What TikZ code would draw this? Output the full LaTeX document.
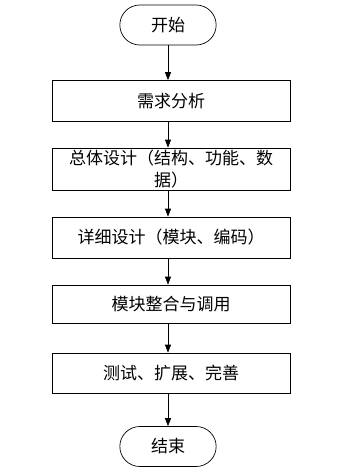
\documentclass[tikz,border=0pt]{standalone}
\usepackage{fontspec}
\newfontfamily\cjkfont{Noto Sans CJK SC}
\usetikzlibrary{arrows.meta, positioning, shapes.misc}

\begin{document}
\begin{tikzpicture}[
    x=1pt, y=1pt,
    box/.style={rectangle, draw, minimum width=238pt, minimum height=41pt,
                align=center, inner xsep=13pt, inner ysep=0pt},
    term/.style={rounded rectangle, draw, minimum width=103pt, minimum height=40pt},
    arrow/.style={-{Triangle[length=8pt, width=6pt]}, line width=0.7pt},
    every node/.style={font=\cjkfont\fontsize{17}{22}\selectfont, line width=0.7pt}
]
\useasboundingbox (0,0) rectangle (339,-476);

% Terminals
\node[term] (start) at (168,-25) {开始};
\node[term] (stop) at (168,-446.5) {结束};

% Main vertical flow
\node[box] (req) at (171,-101) {需求分析};
\node[box, minimum height=42pt] (overall) at (171,-169) {总体设计（结构、功能、数\\据）};
\node[box] (detail) at (171,-237.5) {详细设计（模块、编码）};
\node[box, minimum height=38pt] (integ) at (171,-304) {模块整合与调用};
\node[box, minimum height=40pt] (test) at (171,-373) {测试、扩展、完善};

% Vertical arrows
\draw[arrow] (start.south) -- (start.south |- req.north);
\draw[arrow] (start.south |- req.south) -- (start.south |- overall.north);
\draw[arrow] (start.south |- overall.south) -- (start.south |- detail.north);
\draw[arrow] (start.south |- detail.south) -- (start.south |- integ.north);
\draw[arrow] (start.south |- integ.south) -- (start.south |- test.north);
\draw[arrow] (start.south |- test.south) -- (stop.north);

\end{tikzpicture}
\end{document}
